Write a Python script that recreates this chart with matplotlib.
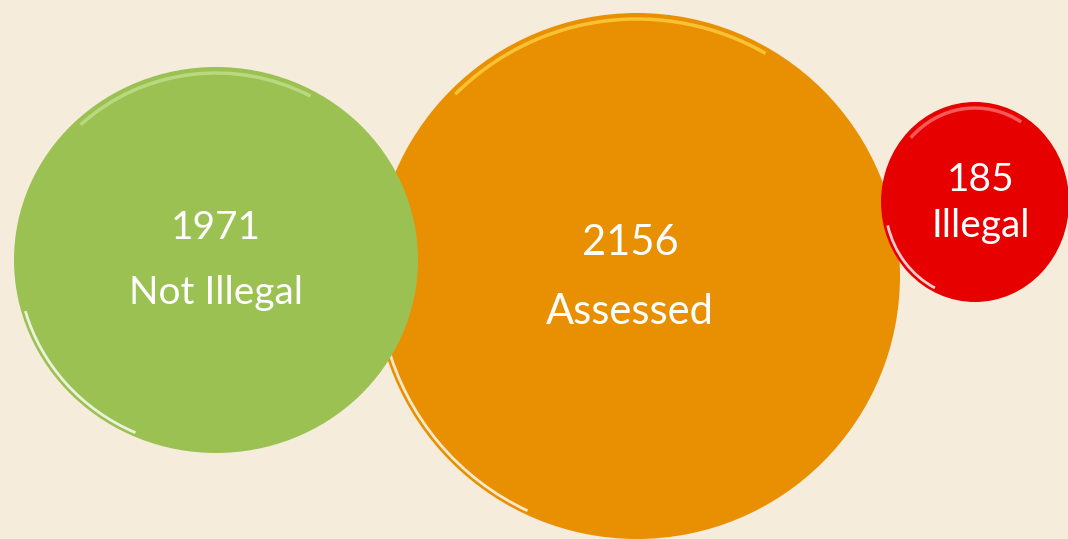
import matplotlib.pyplot as plt
from matplotlib.patches import Ellipse, Arc

# values and labels
counts = [1971, 2156, 185]
labels = ["Not Illegal", "Assessed", "Illegal"]
colors = ["#9BC153", "#E99002", "#E60000"]
rims = ["#C8E290", "#FFD84A", "#FF8080"]

# bubble layout in pixels (x centre, y centre, width, height)
centres = [(216, 260), (637, 276), (975, 202)]
sizes = [(404, 386), (526, 526), (188, 200)]
draw_order = [1, 0, 2]  # green sits over orange, red on top
text_x = [216, 630, 981]
text_y = [(228, 293), (243, 312), (180, 226)]
font_sizes = [28, 30, 28]

fig = plt.figure(figsize=(10.68, 5.39), dpi=100)
fig.patch.set_facecolor("#F5ECDC")
ax = fig.add_axes([0, 0, 1, 1])
ax.set_facecolor("#F5ECDC")
ax.set_xlim(0, 1068)
ax.set_ylim(539, 0)  # y runs downward, so arc angles are mirrored
ax.set_aspect("equal")
ax.axis("off")

for z, i in enumerate(draw_order):
    (cx, cy), (w, h) = centres[i], sizes[i]
    ax.add_patch(Ellipse((cx, cy), w, h, facecolor=colors[i],
                         edgecolor="none", zorder=2 + z * 3))
    # glossy rim: soft glow along the top, bright streak at lower left
    ax.add_patch(Arc((cx, cy), w - 12, h - 12, theta1=225, theta2=300,
                     color=rims[i], lw=2.5, alpha=0.7, zorder=3 + z * 3))
    ax.add_patch(Arc((cx, cy), w - 8, h - 8, theta1=115, theta2=165,
                     color="white", lw=2, alpha=0.8, zorder=3 + z * 3))
    ax.text(text_x[i], text_y[i][0], str(counts[i]), color="white",
            fontsize=font_sizes[i], family="Lato", ha="center", va="center",
            zorder=4 + z * 3)
    ax.text(text_x[i], text_y[i][1], labels[i], color="white",
            fontsize=font_sizes[i], family="Lato", ha="center", va="center",
            zorder=4 + z * 3)

fig.savefig("out.png", dpi=100, facecolor=fig.get_facecolor())
